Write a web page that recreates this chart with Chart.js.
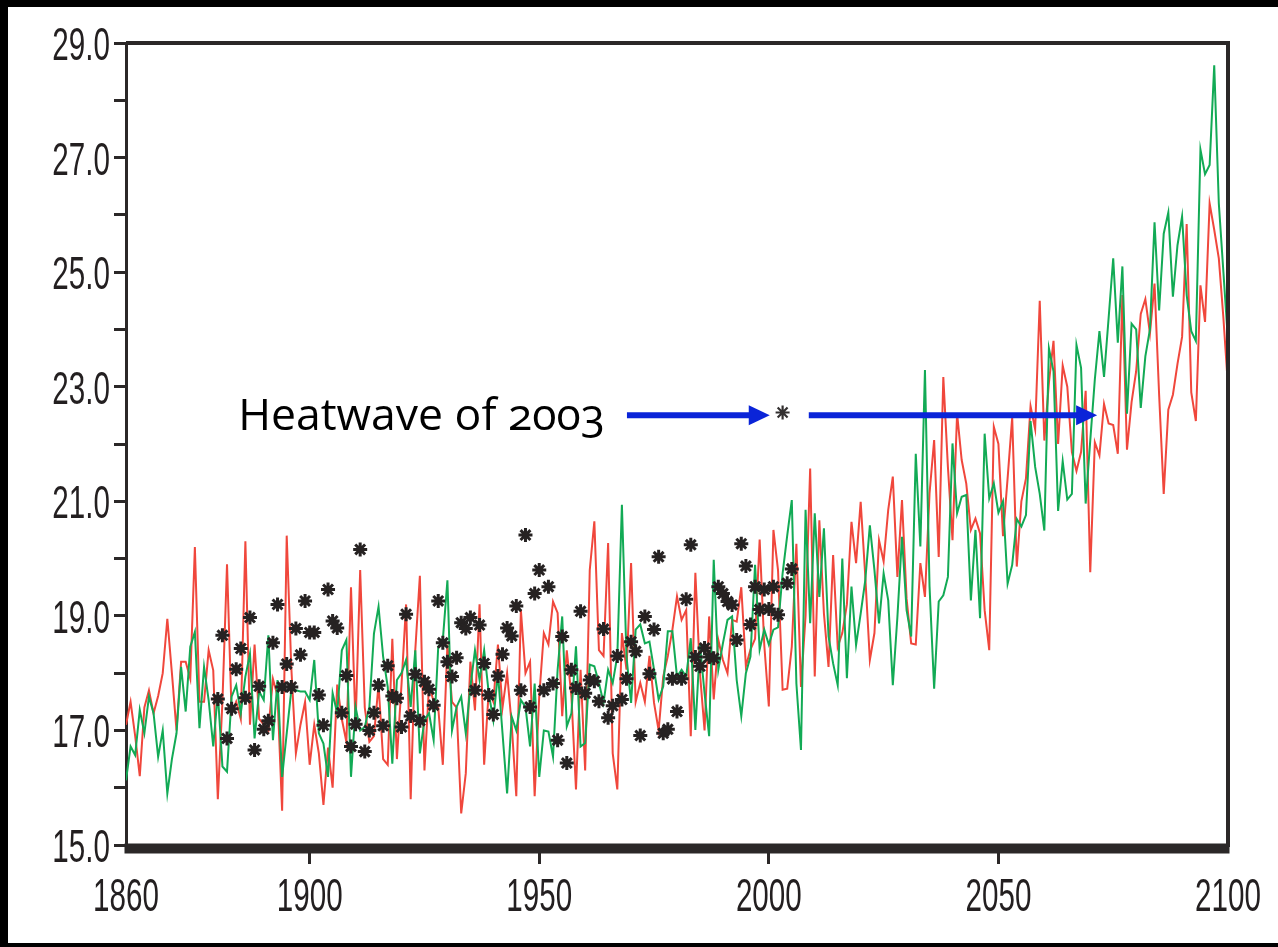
<!DOCTYPE html>
<html><head><meta charset="utf-8">
<script src="https://cdn.jsdelivr.net/npm/chart.js@4.4.0/dist/chart.umd.min.js"></script>
<style>
html,body{margin:0;padding:0;background:#000;width:1278px;height:947px;overflow:hidden}
#panel{position:absolute;left:8px;top:7px;width:1270px;height:936px;background:#fff}
canvas{display:block}
#note{position:absolute;white-space:nowrap;font-family:'Open Sans','Noto Sans',sans-serif;font-size:44.5px;color:#000;font-variant-numeric:oldstyle-nums;font-feature-settings:"onum" 1;line-height:1}
</style></head><body><div id="panel"><canvas id="c" width="1270" height="936"></canvas><div id="note">Heatwave of 2003</div></div>
<script>
// ---- data ----
const firstYear = 1860;
const redValues = [
17.1,17.5,16.9,16.2,17.4,17.7,17.3,17.6,18.0,18.95,
18.0,17.0,18.2,18.2,17.9,20.2,17.5,17.5,18.4,18.05,
15.8,17.5,19.9,17.3,17.5,17.2,20.3,17.1,18.5,17.2,
17.1,17.0,17.9,17.6,15.6,20.4,18.1,16.6,17.1,17.5,
16.4,17.1,16.6,15.7,16.7,16.0,17.8,17.2,16.8,19.5,
17.1,19.8,17.4,16.8,16.9,17.8,16.5,16.4,18.6,16.5,
17.8,19.2,15.8,18.4,19.7,16.3,17.8,17.5,17.4,16.4,
18.5,17.5,17.4,15.55,16.25,18.2,17.35,19.2,16.4,17.7,
17.5,18.5,17.4,18.0,17.1,15.85,19.1,18.0,18.2,15.85,
17.6,18.7,18.5,19.25,19.05,17.25,18.4,17.6,15.97,18.06,
16.3,19.8,20.65,18.4,18.3,20.27,16.6,15.97,18.7,18.06,
19.92,17.5,17.83,17.5,18.3,17.48,17.0,17.94,18.3,18.76,
19.34,18.93,19.1,16.9,19.75,18.0,17.0,18.99,17.54,18.58,
18.23,18.0,18.93,18.9,19.5,18.12,18.41,18.6,20.33,18.5,
17.42,20.5,19.8,17.71,17.73,18.46,20.26,17.76,19.0,21.57,
17.94,20.67,19.04,18.11,20.06,18.46,18.7,19.2,20.64,19.92,
20.99,19.7,18.23,18.7,20.32,19.95,20.85,21.43,19.68,21.02,
19.3,18.52,18.5,19.92,19.33,21.14,22.07,20.03,23.17,21.6,
20.32,22.53,21.72,21.31,20.5,20.7,20.44,19.1,18.4,22.3,
22.0,20.39,21.4,22.46,19.86,21.0,21.4,22.66,22.26,24.5,
22.06,23.07,23.8,22.0,23.37,23.0,21.86,21.53,21.86,22.93,
19.76,22.03,21.8,22.7,22.36,22.33,21.83,24.6,21.9,22.73,
23.27,24.27,24.53,23.93,24.8,22.86,21.13,22.6,22.86,23.4,
23.87,25.84,22.9,22.4,24.77,24.13,26.2,25.74,25.24,24.2,
23.0];
const greenValues = [
16.13,16.72,16.57,17.36,16.95,17.59,17.3,16.54,17.0,15.9,
16.5,16.95,18.11,17.33,18.46,18.72,17.04,18.11,17.53,16.72,
17.65,16.37,16.28,17.59,17.79,17.3,17.94,18.34,16.86,17.68,
17.53,18.66,16.83,17.88,16.19,16.95,17.7,17.7,17.68,17.68,
17.53,18.23,16.95,16.77,16.19,17.65,17.3,18.4,18.58,16.19,
17.41,17.0,17.06,17.41,18.69,19.16,18.29,17.76,16.42,17.88,
18.0,18.23,17.41,18.4,16.6,17.18,17.3,16.83,18.46,18.58,
19.62,17.0,17.41,17.59,16.95,17.76,18.4,17.88,18.4,17.65,
17.18,18.0,16.95,15.9,17.24,17.0,17.53,17.41,16.72,17.82,
16.19,17.0,16.98,16.54,18.06,18.99,17.07,17.3,18.47,16.72,
16.78,18.15,18.12,17.83,17.48,18.06,17.83,18.3,20.94,18.29,
17.48,18.76,18.85,18.52,18.55,18.06,17.54,17.77,18.73,18.73,
17.94,18.06,17.94,18.61,17.01,18.5,17.65,16.9,19.98,18.06,
18.52,18.93,18.99,17.88,17.25,18.0,18.29,19.89,18.41,18.76,
18.5,18.76,18.8,19.74,20.4,21.02,17.82,16.66,20.85,18.87,
20.79,19.33,20.53,18.64,18.17,17.79,20.0,17.91,19.51,18.49,
19.04,19.62,20.58,19.8,18.87,19.74,19.27,17.79,18.98,20.38,
19.1,18.64,21.83,20.21,23.29,19.51,17.73,19.25,19.36,19.68,
22.01,20.79,21.08,21.11,19.27,20.5,18.96,22.18,21.05,21.31,
20.8,21.0,19.56,19.89,20.69,20.56,20.76,22.4,21.6,21.13,
20.49,23.67,23.27,20.83,21.7,21.03,21.13,23.73,23.33,20.96,
22.06,23.13,23.97,23.17,24.2,25.24,23.77,25.1,22.53,24.1,
24.0,22.63,23.53,24.0,25.87,24.33,25.67,26.04,24.57,25.47,
25.97,24.6,23.97,23.8,27.14,26.71,26.87,28.61,26.2,25.0,
23.8];
const obsYears = [
1880,1881,1882,1883,1884,1885,1886,1887,1888,1889,
1890,1891,1892,1893,1894,1895,1896,1897,1898,1899,
1900,1901,1902,1903,1904,1905,1906,1907,1908,1909,
1910,1911,1912,1913,1914,1915,1916,1917,1918,1919,
1920,1921,1922,1923,1924,1925,1926,1927,1928,1929,
1930,1931,1932,1933,1934,1935,1936,1937,1938,1939,
1940,1941,1942,1943,1944,1945,1946,1947,1948,1949,
1950,1951,1952,1953,1954,1955,1956,1957,1958,1959,
1960,1961,1962,1963,1964,1965,1966,1967,1968,1969,
1970,1971,1972,1973,1974,1975,1976,1977,1978,1979,
1980,1981,1982,1983,1984,1985,1986,1987,1988,1989,
1990,1991,1992,1993,1994,1995,1996,1997,1998,1999,
2000,2001,2002,2004,2005];
const obsValues = [
17.55,18.66,16.86,17.38,18.07,18.43,17.57,18.97,16.66,17.77,
17.02,17.17,18.53,19.2,17.76,18.16,17.76,18.78,18.32,19.26,
18.71,18.71,17.62,17.09,19.46,18.91,18.79,17.31,17.96,16.72,
17.11,20.16,16.63,17.0,17.31,17.79,17.08,18.13,17.6,17.56,
17.06,19.03,17.25,17.98,17.17,17.85,17.72,17.44,19.26,18.53,
18.2,17.94,18.27,18.88,18.78,18.97,17.7,18.84,18.17,17.62,
17.28,17.95,18.33,18.79,18.65,19.17,17.7,20.41,17.41,19.39,
19.8,17.7,19.51,17.82,16.83,18.64,16.43,18.06,17.74,19.08,
17.65,17.88,17.86,17.51,18.77,17.22,17.43,18.3,17.54,17.9,
18.55,18.38,16.91,18.99,17.99,18.76,20.03,16.95,17.02,17.9,
17.33,17.9,19.29,20.24,18.28,18.12,18.44,18.28,18.26,19.51,
19.39,19.25,19.19,18.58,20.26,19.87,18.85,19.51,19.11,19.46,
19.12,19.51,19.02,19.57,19.82];
const heatwaveYear = 2003;
const heatwaveValue = 22.55;
const xTickValues = [1860,1900,1950,2000,2050,2100];
const yTickValues = [15,16,17,18,19,20,21,22,23,24,25,26,27,28,29];
const yLabelValues = [15,17,19,21,23,25,27,29];
// annotation anchor (data units)
const noteEndYear = 1964.3;
const arrowValue = 22.5;
const arrow1 = [1969.1, 2000.2];
const arrow2 = [2008.7, 2071.5];

// ---- chart ----
const years = redValues.map((_, i) => firstYear + i);
const toXY = (vals) => vals.map((v, i) => ({x: years[i], y: v}));
const axisColor = '#2b2828';
const labelFont = "47px 'Liberation Sans','Arimo',sans-serif";
const labelSqueeze = 0.63;

function drawLabel(ctx, text, x, yBase, align) {
  ctx.save();
  ctx.translate(x, yBase);
  ctx.scale(labelSqueeze, 1);
  ctx.font = labelFont;
  ctx.fillStyle = '#231f20';
  ctx.textAlign = align;
  ctx.textBaseline = 'alphabetic';
  ctx.fillText(text, 0, 0);
  ctx.restore();
}

const framePlugin = {
  id: 'frame',
  afterDraw(chart) {
    const {ctx, chartArea: a} = chart;
    const xs = chart.scales.x, ys = chart.scales.y;
    ctx.save();
    ctx.fillStyle = axisColor;
    ctx.fillRect(a.left - 1.5, a.bottom - 1.5, a.right - a.left + 3, 10);
    ctx.strokeStyle = axisColor;
    ctx.lineWidth = 4;
    ctx.beginPath();
    ctx.moveTo(a.left, a.top);
    ctx.lineTo(a.right, a.top);
    ctx.lineTo(a.right, a.bottom);
    ctx.stroke();
    // tick labels (condensed)
    yLabelValues.forEach(v => drawLabel(ctx, v.toFixed(1), a.left - 16, ys.getPixelForValue(v) + 17, 'right'));
    xTickValues.forEach(v => drawLabel(ctx, String(v), xs.getPixelForValue(v), a.bottom + 66, 'center'));
    // arrows
    const yA = ys.getPixelForValue(arrowValue);
    ctx.fillStyle = '#0a24d8';
    ctx.strokeStyle = '#0a24d8';
    ctx.lineWidth = 6;
    [arrow1, arrow2].forEach(([a0, a1]) => {
      const x0 = xs.getPixelForValue(a0), x1 = xs.getPixelForValue(a1);
      ctx.beginPath();
      ctx.moveTo(x0, yA);
      ctx.lineTo(x1 - 18, yA);
      ctx.stroke();
      ctx.beginPath();
      ctx.moveTo(x1, yA);
      ctx.lineTo(x1 - 21, yA - 10);
      ctx.lineTo(x1 - 21, yA + 10);
      ctx.closePath();
      ctx.fill();
    });
    ctx.restore();
  }
};

const chart = new Chart(document.getElementById('c'), {
  type: 'line',
  data: {
    datasets: [
      {label: 'Model A', data: toXY(redValues), borderColor: '#f0473c', borderWidth: 2, pointRadius: 0, tension: 0, fill: false, order: 3},
      {label: 'Model B', data: toXY(greenValues), borderColor: '#12aa55', borderWidth: 2, pointRadius: 0, tension: 0, fill: false, order: 2},
      {label: 'Observed', data: obsYears.map((y, i) => ({x: y, y: obsValues[i]})), showLine: false, pointStyle: 'star', pointRadius: 7, borderColor: '#262222', borderWidth: 3, order: 1},
      {label: 'Heatwave 2003', data: [{x: heatwaveYear, y: heatwaveValue}], showLine: false, pointStyle: 'star', pointRadius: 7, borderColor: '#333030', borderWidth: 2.2, order: 0}
    ]
  },
  options: {
    responsive: false,
    animation: false,
    devicePixelRatio: 1,
    layout: {padding: {top: 36, right: 50, left: 0, bottom: 0}},
    plugins: {legend: {display: false}, tooltip: {enabled: false}},
    scales: {
      x: {
        type: 'linear', min: 1860, max: 2100,
        afterBuildTicks: s => { s.ticks = xTickValues.map(v => ({value: v})); },
        afterFit: s => { s.height = 98; },
        ticks: {display: false},
        grid: {drawOnChartArea: false, drawTicks: true, tickLength: 19, lineWidth: 3,
               color: c => (c.tick && (c.tick.value === 1860 || c.tick.value === 2100)) ? 'rgba(0,0,0,0)' : axisColor},
        border: {display: true, width: 3, color: axisColor}
      },
      y: {
        min: 15, max: 29,
        afterBuildTicks: s => { s.ticks = yTickValues.map(v => ({value: v})); },
        afterFit: s => { s.width = 118; },
        ticks: {display: false},
        grid: {drawOnChartArea: false, drawTicks: true, tickLength: 12, lineWidth: 3, color: axisColor},
        border: {display: true, width: 3, color: axisColor}
      }
    }
  },
  plugins: [framePlugin]
});

// place annotation text from the scales
const note = document.getElementById('note');
const nx = chart.scales.x.getPixelForValue(noteEndYear);
const ny = chart.scales.y.getPixelForValue(arrowValue);
const r = note.getBoundingClientRect();
note.style.left = (nx - r.width) + 'px';
note.style.top = (ny - r.height / 2 - 2) + 'px';
</script></body></html>
